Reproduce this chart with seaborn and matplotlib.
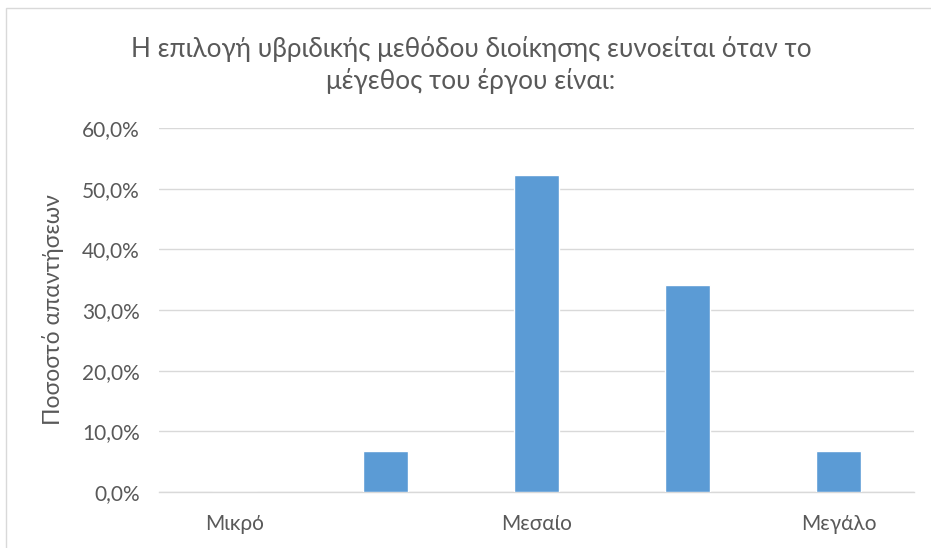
import matplotlib
matplotlib.use("Agg")
import matplotlib.pyplot as plt
from matplotlib.patches import Rectangle
from matplotlib.ticker import FuncFormatter
import seaborn as sns
import pandas as pd

# Response shares per project size (percent)
categories = ["Μικρό", "Μικρό-Μεσαίο", "Μεσαίο", "Μεσαίο-Μεγάλο", "Μεγάλο"]
tick_labels = ["Μικρό", "", "Μεσαίο", "", "Μεγάλο"]
values = [0.0, 6.8, 52.3, 34.1, 6.8]
y_ticks = [0, 10, 20, 30, 40, 50, 60]

title = "Η επιλογή υβριδικής μεθόδου διοίκησης ευνοείται όταν το\nμέγεθος του έργου είναι:"
y_label = "Ποσοστό απαντήσεων"

sns.set_theme(style="white")
plt.rcParams["font.family"] = ["Lato", "Open Sans", "DejaVu Sans"]

text_color = "#595959"
grid_color = "#D9D9D9"
bar_color = "#5B9BD5"

df = pd.DataFrame({"category": categories, "value": values})

fig = plt.figure(figsize=(9.31, 5.48), dpi=100)
fig.patch.set_facecolor("white")
fig.patches.append(Rectangle((0.006, -0.05), 1.1, 1.036, transform=fig.transFigure,
                             fill=False, edgecolor="#D9D9D9", linewidth=1.0))

ax = fig.add_axes([159 / 931, 1 - 492 / 548, 755 / 931, 364 / 548])
sns.barplot(data=df, x="category", y="value", order=categories, color=bar_color,
            width=0.3, saturation=1, ax=ax, zorder=3)

ax.set_ylim(0, 60)
ax.set_xlim(-0.5, len(categories) - 0.5)
ax.set_yticks(y_ticks)
ax.yaxis.set_major_formatter(FuncFormatter(lambda v, p: f"{v:.1f}%".replace(".", ",")))
ax.set_xticks(range(len(categories)))
ax.set_xticklabels(tick_labels)

ax.grid(axis="y", color=grid_color, linewidth=1.0, zorder=0)
for side in ["top", "right", "left"]:
    ax.spines[side].set_visible(False)
ax.spines["bottom"].set_color(grid_color)
ax.spines["bottom"].set_linewidth(1.0)

ax.tick_params(axis="both", length=0, labelsize=15, colors=text_color)
ax.tick_params(axis="y", pad=14)
ax.tick_params(axis="x", pad=16)

ax.set_xlabel("")
ax.set_ylabel(y_label, fontsize=16.5, color=text_color, labelpad=13)
fig.text(0.506, 0.882, title, ha="center", va="center", fontsize=18.8,
         color=text_color, linespacing=1.3)

fig.savefig("out.png", dpi=100, facecolor="white")
